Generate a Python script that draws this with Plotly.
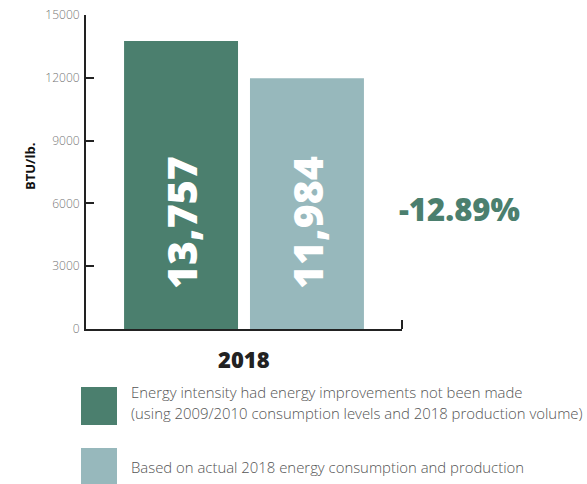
import plotly.graph_objects as go

# Energy intensity, BTU per lb., for the 2018 production year
year = ["2018"]
series_names = [
    "Energy intensity had energy improvements not been made<br>(using 2009/2010 consumption levels and 2018 production volume)",
    "Based on actual 2018 energy consumption and production",
]
series_values = [13757, 11984]
series_colors = ["#4b7f6e", "#97b8bc"]
y_ticks = [0, 3000, 6000, 9000, 12000, 15000]

W, H = 587, 484
L, R, T, B = 86, 185, 15, 155
pw, ph = W - L - R, H - T - B

def px_x(px):
    return (px - L) / pw

def px_y(py):
    return (H - B - py) / ph

fig = go.Figure()
for name, val, col in zip(series_names, series_values, series_colors):
    fig.add_trace(go.Bar(
        x=year, y=[val], name=name, marker=dict(color=col, line=dict(width=0)),
        showlegend=False, hoverinfo="skip",
    ))

annotations = []
# rotated value labels inside the bars
shifts = [-63, 63]
for val, sh in zip(series_values, shifts):
    annotations.append(dict(
        x=0, xref="x", xshift=sh, y=px_y(223), yref="paper",
        text=f"{val:,}", textangle=-90, showarrow=False,
        font=dict(family="Open Sans", size=41, color="white", weight=800),
        xanchor="center", yanchor="middle",
    ))

# percent change between the two bars
change = (series_values[1] - series_values[0]) / series_values[0] * 100
annotations.append(dict(
    x=px_x(459), y=px_y(209), xref="paper", yref="paper",
    text=f"{change:.2f}%", showarrow=False,
    font=dict(family="Open Sans", size=31, color="#4b7f6e", weight=800),
    xanchor="center", yanchor="middle",
))

# y-axis title
annotations.append(dict(
    x=px_x(30), y=px_y(167), xref="paper", yref="paper",
    text="<b>BTU/lb.</b>", textangle=-90, showarrow=False,
    font=dict(family="Open Sans", size=13, color="#111"),
    xanchor="center", yanchor="middle",
))

# category label below the axis
annotations.append(dict(
    x=0, xref="x", y=px_y(359), yref="paper",
    text=year[0], showarrow=False,
    font=dict(family="Open Sans", size=22, color="#222", weight=800),
    xanchor="center", yanchor="middle",
))

shapes = []
# right end cap of the x axis
shapes.append(dict(
    type="line", xref="paper", yref="paper",
    x0=px_x(402), x1=px_x(402), y0=px_y(329), y1=px_y(320),
    line=dict(color="#222", width=2),
))

# legend: large swatches with text lines
legend_rows = [(387, 425, [392, 413]), (448, 484, [467])]
for (y0, y1, line_ys), name, col in zip(legend_rows, series_names, series_colors):
    shapes.append(dict(
        type="rect", xref="paper", yref="paper",
        x0=px_x(81), x1=px_x(117), y0=px_y(y1), y1=px_y(y0),
        fillcolor=col, line=dict(width=0),
    ))
    for line_text, ty in zip(name.split("<br>"), line_ys):
        annotations.append(dict(
            x=px_x(129), y=px_y(ty), xref="paper", yref="paper",
            text=line_text, showarrow=False, align="left",
            font=dict(family="Open Sans", size=14.9, color="#555", weight=300),
            xanchor="left", yanchor="middle",
        ))

fig.update_layout(
    width=W, height=H,
    margin=dict(l=L, r=R, t=T, b=B, pad=0, autoexpand=False),
    paper_bgcolor="white", plot_bgcolor="white",
    barmode="group", bargap=0.203, bargroupgap=0.095,
    annotations=annotations, shapes=shapes,
    font=dict(family="Open Sans"),
    xaxis=dict(
        type="category", automargin=False,
        showline=True, linecolor="#222", linewidth=2,
        showticklabels=False, ticks="", showgrid=False, zeroline=False,
        range=[-0.5, 0.5], fixedrange=True,
    ),
    yaxis=dict(
        automargin=False,
        range=[0, 15000], tickvals=y_ticks, ticktext=[str(v) for v in y_ticks],
        showline=True, linecolor="#222", linewidth=2,
        ticks="inside", ticklen=8, tickwidth=2, tickcolor="#222",
        tickfont=dict(family="Open Sans", size=12, color="#777", weight=300),
        showgrid=False, zeroline=False, ticklabelstandoff=2,
    ),
)

fig.write_html("out.html")
